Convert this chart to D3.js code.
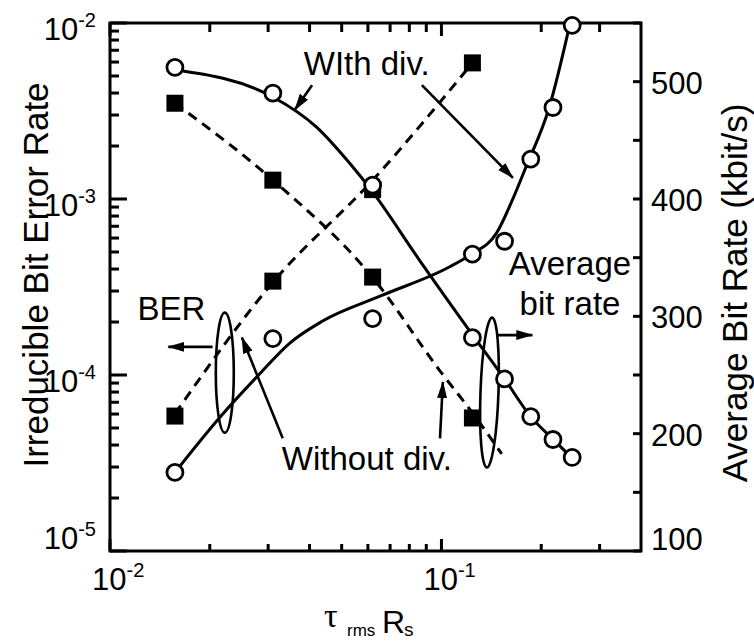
<!DOCTYPE html>
<html>
<head>
<meta charset="utf-8">
<script src="https://cdn.jsdelivr.net/npm/d3@7"></script>
<style>
  body { margin: 0; background: #fff; }
  svg text { font-family: "Liberation Sans", Arial, Helvetica, sans-serif; fill: #000; }
</style>
</head>
<body>
<div id="chart"></div>
<script>
// measured points (tau_rms * Rs)
const tauPts = [0.0157, 0.031, 0.062, 0.124, 0.155, 0.186, 0.217, 0.248];
const berWith = [5.6e-3, 4.0e-3, 1.2e-3, 1.63e-4, 9.5e-5, 5.8e-5, 4.3e-5, 3.4e-5];
const rateWith = [167, 281, 298, 353, 364, 434, 478, 548];

const tauWithout = [0.0157, 0.031, 0.062, 0.124];
const berWithout = [3.5e-3, 1.28e-3, 3.6e-4, 5.7e-5];
const rateWithout = [215, 330, 408, 516];

// fitted curves as drawn in the figure
const fitTauBerWith = [0.0157, 0.031, 0.042, 0.0528, 0.0615, 0.0858, 0.1233, 0.155, 0.186, 0.216, 0.247];
const fitBerWith = [5.4e-3, 3.8e-3, 2.56e-3, 1.6e-3, 1.12e-3, 4.5e-4, 1.72e-4, 9.5e-5, 5.8e-5, 4.35e-5, 3.4e-5];

const fitTauBerWithout = [0.0157, 0.031, 0.062, 0.0988, 0.124, 0.152];
const fitBerWithout = [3.5e-3, 1.28e-3, 3.58e-4, 1.06e-4, 6.1e-5, 3.56e-5];

const fitTauRateWith = [0.0157, 0.0214, 0.0283, 0.0348, 0.0438, 0.0664, 0.1056, 0.1233, 0.1464, 0.1636, 0.1797, 0.2114, 0.2436];
const fitRateWith = [167, 213.6, 251, 277, 296, 318, 342, 353, 370.7, 399, 427, 478, 548];

const fitTauRateWithout = [0.0157, 0.031, 0.062, 0.124];
const fitRateWithout = [217, 329, 416, 516];

// axes
const tauMajor = [0.01, 0.1];
const tauMajorExp = ['-2', '-1'];
const berMajor = [1e-5, 1e-4, 1e-3, 1e-2];
const berMajorExp = ['-5', '-4', '-3', '-2'];
const rateTicks = [100, 200, 300, 400, 500];

const width = 754, height = 642;
const pLeft = 110, pRight = 641, pTop = 23, pBottom = 551;

const svg = d3.select('#chart').append('svg')
  .attr('width', width)
  .attr('height', height);

const x = d3.scaleLog().domain([0.01, 0.4]).range([pLeft, pRight]);
const yBer = d3.scaleLog().domain([1e-5, 1e-2]).range([pBottom, pTop]);
const yRate = d3.scaleLinear().domain([100, 550]).range([pBottom, pTop]);

// minor tick positions
const tauMinor = [0.02, 0.03, 0.04, 0.05, 0.06, 0.07, 0.08, 0.09, 0.2, 0.3];
const berMinor = [];
[1e-5, 1e-4, 1e-3].forEach(d => { [2, 3, 4, 5, 6, 7, 8, 9].forEach(k => berMinor.push(d * k)); });
const rateMinor = [150, 250, 350, 450, 550];

// curves
function curve(xs, ys, yScale, dashed) {
  let pts = xs.map((d, i) => [x(d), yScale(ys[i])]);
  svg.append('path')
    .attr('d', d3.line().curve(d3.curveMonotoneX)(pts))
    .attr('fill', 'none')
    .attr('stroke', '#000')
    .attr('stroke-width', 3)
    .attr('stroke-dasharray', dashed ? '10,7' : null);
}
curve(fitTauBerWithout, fitBerWithout, yBer, true);
curve(fitTauRateWithout, fitRateWithout, yRate, true);
curve(fitTauBerWith, fitBerWith, yBer, false);
curve(fitTauRateWith, fitRateWith, yRate, false);

// frame
svg.append('rect')
  .attr('x', pLeft).attr('y', pTop)
  .attr('width', pRight - pLeft).attr('height', pBottom - pTop)
  .attr('fill', 'none').attr('stroke', '#000').attr('stroke-width', 3);

// inward tick marks drawn as small filled bars
const tw = 3;
function xTicks(vals, y0, len) {
  svg.append('g').selectAll('rect').data(vals).enter().append('rect')
    .attr('x', d => x(d) - tw / 2)
    .attr('y', len > 0 ? y0 : y0 + len)
    .attr('width', tw).attr('height', Math.abs(len))
    .attr('fill', '#000');
}
function yTicks(vals, scale, x0, len) {
  svg.append('g').selectAll('rect').data(vals).enter().append('rect')
    .attr('x', len > 0 ? x0 : x0 + len)
    .attr('y', d => scale(d) - tw / 2)
    .attr('width', Math.abs(len)).attr('height', tw)
    .attr('fill', '#000');
}
xTicks(tauMinor, pBottom, -7);
xTicks(tauMajor, pBottom, -12);
xTicks(tauMinor, pTop, 9);
xTicks(tauMajor, pTop, 13);
yTicks(berMinor, yBer, pLeft, 9);
yTicks(berMajor, yBer, pLeft, 17);
yTicks(rateMinor.concat(rateTicks), yRate, pRight, -8);

// tick labels
berMajor.forEach((d, i) => {
  let yy = yBer(d) + 17;
  if (i === 0) yy = pBottom - 2;
  let t = svg.append('text').attr('x', 96).attr('y', yy)
    .attr('text-anchor', 'end').style('font-size', '31px');
  t.append('tspan').text('10');
  t.append('tspan').attr('dy', -13).style('font-size', '20px').text(berMajorExp[i]);
});

tauMajor.forEach((d, i) => {
  let t = svg.append('text').attr('x', x(d) - 18).attr('y', 590)
    .style('font-size', '31px');
  t.append('tspan').text('10');
  t.append('tspan').attr('dy', -13).style('font-size', '20px').text(tauMajorExp[i]);
});

rateTicks.forEach((d, i) => {
  let yy = yRate(d) + 12;
  if (i === 0) yy = pBottom - 1;
  svg.append('text').attr('x', 651).attr('y', yy)
    .style('font-size', '31px').text(d);
});

// axis titles
svg.append('text')
  .attr('transform', 'translate(48,275) rotate(-90)')
  .attr('text-anchor', 'middle')
  .style('font-size', '35px')
  .text('Irreducible Bit Error Rate');

svg.append('text')
  .attr('transform', 'translate(747,293) rotate(-90)')
  .attr('text-anchor', 'middle')
  .style('font-size', '35px')
  .text('Average Bit Rate (kbit/s)');

svg.append('text').attr('x', 324).attr('y', 627)
  .style('font-family', '"Liberation Serif", "DejaVu Serif", serif')
  .style('font-size', '34px').text('τ');
svg.append('text').attr('x', 347).attr('y', 636).style('font-size', '17px').text('rms');
svg.append('text').attr('x', 382).attr('y', 633).style('font-size', '32px').text('R');
svg.append('text').attr('x', 404).attr('y', 636).style('font-size', '19px').text('s');

// annotations
svg.append('defs').append('marker')
  .attr('id', 'arrow')
  .attr('markerUnits', 'userSpaceOnUse')
  .attr('markerWidth', 18).attr('markerHeight', 12)
  .attr('refX', 16).attr('refY', 5)
  .attr('orient', 'auto')
  .append('path').attr('d', 'M0,0 L17,5 L0,10 Z').attr('fill', '#000');

const arrows = [
  [0.0407, 497, 0.0361, 476],
  [0.0873, 497, 0.1643, 418],
  [0.0332, 196, 0.0250, 282],
  [0.0990, 196, 0.1010, 244],
  [0.0204, 274, 0.0150, 274],
  [0.1469, 284, 0.1880, 284]
];
arrows.forEach(a => {
  svg.append('line')
    .attr('x1', x(a[0])).attr('y1', yRate(a[1]))
    .attr('x2', x(a[2])).attr('y2', yRate(a[3]))
    .attr('stroke', '#000').attr('stroke-width', 2.6)
    .attr('marker-end', 'url(#arrow)');
});

[[0.0222, 252, 9, 60, 0], [0.1396, 235, 9, 75, 2]].forEach(e => {
  svg.append('ellipse')
    .attr('transform', 'translate(' + x(e[0]) + ',' + yRate(e[1]) + ') rotate(' + e[4] + ')')
    .attr('rx', e[2]).attr('ry', e[3])
    .attr('fill', 'none').attr('stroke', '#000').attr('stroke-width', 2.6);
});

// markers
svg.selectAll('.sqBer').data(tauWithout).enter().append('rect')
  .attr('x', d => x(d) - 8.5).attr('y', (d, i) => yBer(berWithout[i]) - 8.5)
  .attr('width', 17).attr('height', 17).attr('fill', '#000');
svg.selectAll('.sqRate').data(tauWithout).enter().append('rect')
  .attr('x', d => x(d) - 8.5).attr('y', (d, i) => yRate(rateWithout[i]) - 8.5)
  .attr('width', 17).attr('height', 17).attr('fill', '#000');
svg.selectAll('.cBer').data(tauPts).enter().append('circle')
  .attr('cx', d => x(d)).attr('cy', (d, i) => yBer(berWith[i]))
  .attr('r', 8).attr('fill', '#fff').attr('stroke', '#000').attr('stroke-width', 2.8);
svg.selectAll('.cRate').data(tauPts).enter().append('circle')
  .attr('cx', d => x(d)).attr('cy', (d, i) => yRate(rateWith[i]))
  .attr('r', 8).attr('fill', '#fff').attr('stroke', '#000').attr('stroke-width', 2.8);

// labels
function label(txt, tx, ty, anchor) {
  svg.append('text').attr('x', x(tx)).attr('y', yRate(ty))
    .attr('text-anchor', anchor).style('font-size', '33px').text(txt);
}
label('WIth div.', 0.0595, 506, 'middle');
label('Without div.', 0.0330, 169, 'start');
label('BER', 0.0121, 297, 'start');
label('Average', 0.2443, 335, 'middle');
label('bit rate', 0.2443, 301, 'middle');
</script>
</body>
</html>
